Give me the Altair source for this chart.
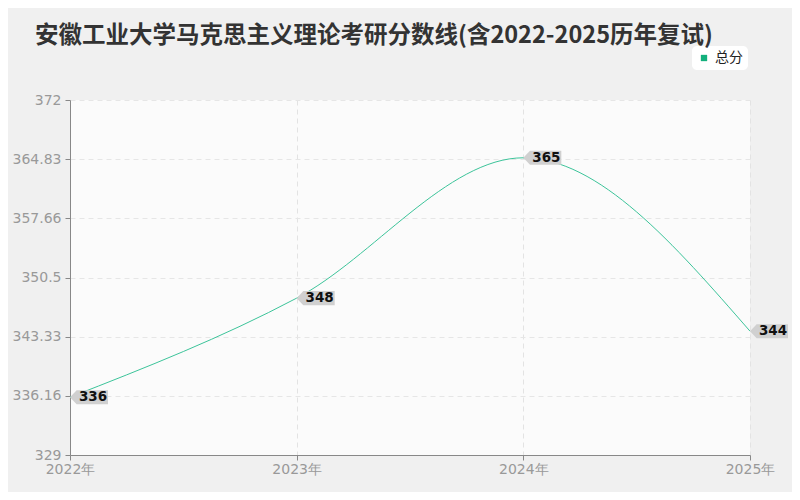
import altair as alt
import pandas as pd

years = ["2022年", "2023年", "2024年", "2025年"]
scores = [336, 348, 365, 344]
series = ["总分"] * 4
y_ticks = [329, 336.16, 343.33, 350.5, 357.66, 364.83, 372]

df = pd.DataFrame({"year": years, "score": scores, "series": series})

x_enc = alt.X("year:O", scale=alt.Scale(type="point", domain=years, padding=0),
              axis=alt.Axis(title=None, labelAngle=0, labelColor="#999999", labelFontSize=14,
                            domainColor="#888888", tickColor="#888888", tickSize=5,
                            labelPadding=2, grid=True, gridColor="#e3e3e3", gridDash=[5, 4],
                            labelFont="DejaVu Sans"))
y_enc = alt.Y("score:Q", scale=alt.Scale(domain=[329, 372], nice=False, zero=False),
              axis=alt.Axis(title=None, values=y_ticks, format=".2~f", labelColor="#999999",
                            labelFontSize=14, domainColor="#888888", tickColor="#888888",
                            tickSize=5, grid=True, gridColor="#e6e6e6", gridDash=[5, 4],
                            labelFont="DejaVu Sans", labelPadding=4))

base = alt.Chart(df)

line = base.mark_line(interpolate="monotone", strokeWidth=1, color="#3cc49a").encode(
    x=x_enc, y=y_enc)

legend_pts = base.mark_point(shape="square", filled=True, opacity=0, size=40).encode(
    x=x_enc, y=y_enc,
    color=alt.Color("series:N", scale=alt.Scale(range=["#13b07c"]),
                    legend=alt.Legend(title=None, orient="none", legendX=622, legendY=-54,
                                      symbolType="square", symbolSize=40, symbolOpacity=1,
                                      symbolFillColor="#13b07c", symbolStrokeWidth=0,
                                      labelFontSize=14, labelColor="#222222",
                                      labelFont="Noto Sans CJK SC",
                                      fillColor="#ffffff", cornerRadius=5, padding=5)),
)

callout = base.mark_point(
    shape="M0,0 L0.35,-0.37 L2,-0.37 L2,0.37 L0.35,0.37 Z",
    size=1444, filled=True, fill="#d0d0d0", opacity=1, strokeWidth=0,
).encode(x=x_enc, y=y_enc)

labels = base.mark_text(dx=23, fontSize=13.5, fontWeight="bold", color="#111111",
                        font="DejaVu Sans").encode(
    x=x_enc, y=y_enc, text=alt.Text("score:Q"))

chart = alt.layer(line, legend_pts, callout, labels).properties(
    width=680, height=355,
    title=alt.TitleParams("安徽工业大学马克思主义理论考研分数线(含2022-2025历年复试)",
                          anchor="start", frame="group", dx=-35, offset=-1, fontSize=23.5,
                          font="Noto Sans CJK SC", fontWeight="bold", color="#333333"),
    background="#f0f0f0",
    padding={"left": 62, "top": 92, "right": 42, "bottom": 37},
    autosize=alt.AutoSizeParams(type="none"),
).configure_view(fill="#fbfbfb", stroke=None)

chart.save("out.html", embed_options={"renderer": "svg", "actions": False})
